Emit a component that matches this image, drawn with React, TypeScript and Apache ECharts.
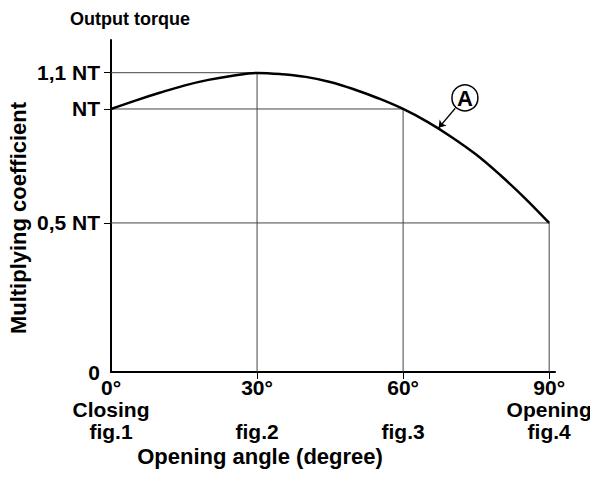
import React, { useEffect, useRef } from "react";
import * as echarts from "echarts";

// Opening angle (degrees) along the curve A
const angles = [0, 5, 10, 15, 20, 25, 30, 35, 40, 45, 50, 55, 60, 65, 70, 75, 80, 85, 90];
// Drawing height of curve A on the schematic (non-linear) torque axis
const torqueHeights = [0.877, 0.905, 0.931, 0.955, 0.974, 0.988, 0.997, 0.993, 0.984, 0.967, 0.942, 0.912, 0.877, 0.834, 0.783, 0.725, 0.656, 0.58, 0.497];

// Y axis tick positions and their labels
const yTickPos = [0, 0.497, 0.877, 0.998];
const yTickLabels = ["0", "0,5 NT", "NT", "1,1 NT"];

// X axis ticks and labels
const xTickPos = [0, 30, 60, 90];
const xTickLabels = ["0°\nClosing\nfig.1", "30°\n\nfig.2", "60°\n\nfig.3", "90°\nOpening\nfig.4"];

// Drop lines: angle and level they reach
const dropAngles = [30, 60, 90];
const dropLevels = [0.998, 0.877, 0.497];

// Annotation "A"
const annotLabel = "A";
const annotPos = [72.7, 0.914];
const annotLeader = [[70.7, 0.879], [67.3, 0.814]];

const FONT = "Liberation Sans, Arial, Helvetica, sans-serif";

const txt = (text: string, size: number, extra: any = {}) => ({
  text,
  fill: "#000",
  fontFamily: FONT,
  fontWeight: "bold",
  fontSize: size,
  ...extra,
});

export default function App() {
  const ref = useRef<HTMLDivElement>(null);
  useEffect(() => {
    if (!ref.current) return;
    const chart = echarts.init(ref.current, undefined, { renderer: "svg" });

    const dropSeries: any[] = [];
    dropAngles.forEach((a, i) => {
      const h = dropLevels[i];
      dropSeries.push({
        type: "line",
        data: [[0, h], [a, h]],
        symbol: "none",
        lineStyle: { color: "#444", width: 1 },
        silent: true,
        z: 1,
      });
      dropSeries.push({
        type: "line",
        data: [[a, 0], [a, h]],
        symbol: "none",
        lineStyle: { color: "#444", width: 1 },
        silent: true,
        z: 1,
      });
    });

    const baseGraphic: any[] = [
      {
        type: "text",
        x: 70,
        y: 19,
        style: txt("Output torque", 18, { align: "left", verticalAlign: "middle" }),
      },
      {
        type: "text",
        x: 260,
        y: 456,
        style: txt("Opening angle (degree)", 22, { align: "center", verticalAlign: "middle" }),
      },
      {
        type: "text",
        x: 18,
        y: 218,
        rotation: Math.PI / 2,
        style: txt("Multiplying coefficient", 22, { align: "center", verticalAlign: "middle" }),
      },
    ];

    chart.setOption({
      animation: false,
      grid: { left: 111, right: 43, top: 40, bottom: 116 },
      xAxis: {
        type: "value",
        min: 0,
        max: 91.2,
        splitLine: { show: false },
        axisLine: { lineStyle: { color: "#000", width: 2 } },
        axisTick: {
          show: true,
          customValues: [30, 60, 90],
          length: 7,
          lineStyle: { color: "#000", width: 1 },
        },
        axisLabel: {
          customValues: xTickPos,
          formatter: (v: number) => xTickLabels[xTickPos.indexOf(v)] ?? "",
          color: "#000",
          fontFamily: FONT,
          fontWeight: "bold",
          fontSize: 21,
          lineHeight: 22,
          margin: 4,
        },
      },
      yAxis: {
        type: "value",
        min: 0,
        max: 1.107,
        splitLine: { show: false },
        axisLine: { show: true, lineStyle: { color: "#000", width: 2 } },
        axisTick: {
          show: true,
          customValues: [0.497, 0.877, 0.998],
          length: 7,
          lineStyle: { color: "#000", width: 1 },
        },
        axisLabel: {
          customValues: yTickPos,
          formatter: (v: number) => yTickLabels[yTickPos.indexOf(v)] ?? "",
          color: "#000",
          fontFamily: FONT,
          fontWeight: "bold",
          fontSize: 21,
          margin: 11,
        },
      },
      graphic: baseGraphic,
      series: [
        ...dropSeries,
        {
          type: "line",
          data: angles.map((a, i) => [a, torqueHeights[i]]),
          smooth: 0.4,
          symbol: "none",
          lineStyle: { color: "#000", width: 2.5 },
          z: 3,
        },
        {
          type: "lines",
          coordinateSystem: "cartesian2d",
          data: [{ coords: annotLeader }],
          symbol: ["none", "arrow"],
          symbolSize: 7,
          lineStyle: { color: "#000", width: 1.5, opacity: 1 },
          z: 4,
        },
      ],
    });

    const p = chart.convertToPixel({ gridIndex: 0 }, annotPos) as number[];
    chart.setOption({
      graphic: [
        ...baseGraphic,
        {
          type: "circle",
          shape: { cx: p[0], cy: p[1], r: 13 },
          style: { fill: "#fff", stroke: "#000", lineWidth: 1.5 },
          z: 10,
        },
        {
          type: "text",
          x: p[0],
          y: p[1] + 1,
          style: txt(annotLabel, 22, { align: "center", verticalAlign: "middle" }),
          z: 11,
        },
      ],
    });
    return () => chart.dispose();
  }, []);
  return <div ref={ref} style={{ width: 598, height: 488, marginLeft: -8, marginTop: -8 }} />;
}
